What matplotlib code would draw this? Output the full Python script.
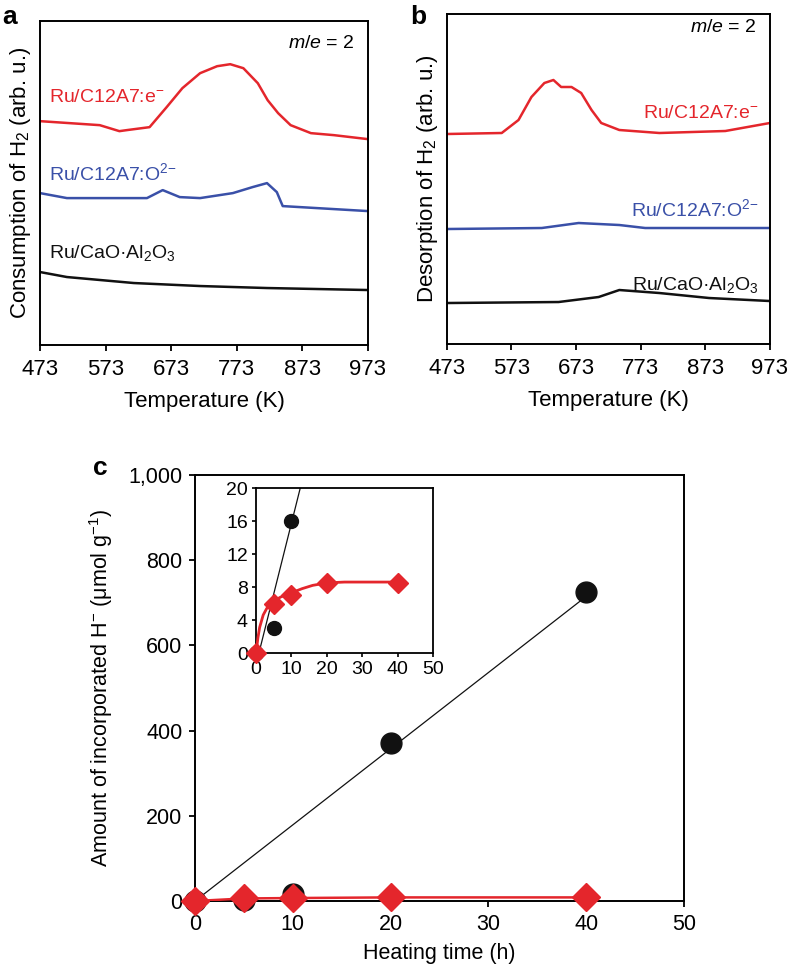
import matplotlib
matplotlib.use("Agg")

import numpy as np
import matplotlib.pyplot as plt

plt.rcParams["font.family"] = ["Liberation Sans", "DejaVu Sans"]
plt.rcParams["mathtext.fontset"] = "custom"
plt.rcParams["mathtext.rm"] = "Liberation Sans"
plt.rcParams["mathtext.it"] = "Liberation Sans:italic"
plt.rcParams["mathtext.default"] = "regular"

# ======================================
# DATA
# ======================================

# panel a: H2 consumption traces (temperature K, arb. units)
a_red_T = [473, 564, 594, 605, 640, 666, 690, 717, 743, 763, 783, 805, 820, 836, 855, 886, 921, 973]
a_red_y = [224, 220, 214, 215, 218, 238, 257, 272, 279, 281, 277, 262, 245, 232, 220, 212, 210, 206]

a_blue_T = [473, 514, 636, 660, 686, 717, 767, 797, 819, 834, 843, 869, 973]
a_blue_y = [152, 147, 147, 155, 148, 147, 152, 158, 162, 153, 139, 138, 134]

a_black_T = [473, 514, 616, 717, 819, 973]
a_black_y = [73, 68, 62, 59, 57, 55]

# panel b: H2 desorption traces
b_red_T = [473, 558, 584, 604, 624, 638, 650, 666, 681, 697, 712, 740, 802, 904, 973]
b_red_y = [210, 211, 224, 247, 261, 264, 257, 257, 251, 234, 221, 214, 211, 213, 221]

b_blue_T = [473, 620, 677, 740, 780, 973]
b_blue_y = [115, 116, 121, 119, 116, 116]

b_black_T = [473, 646, 708, 740, 802, 879, 973]
b_black_y = [41, 42, 47, 54, 51, 46, 43]

# panel c: incorporated H- vs heating time
time_h = [0, 5, 10, 20, 40]
h_e = [0, 3, 16, 370, 725]          # Ru/C12A7:e-
h_o = [0, 6, 7, 8.5, 8.5]           # Ru/C12A7:O2-

fit_main_t = [0, 40]
fit_main_y = [0, 715]
fit_inset_t = [0.8, 14]
fit_inset_y = [0, 22.6]
curve_o_t = [0, 0.5, 1, 2, 3, 4, 5, 7, 10, 13, 16, 20, 25, 30, 40]
curve_o_y = [0, 1.8, 3.1, 4.6, 5.4, 5.9, 6.3, 6.8, 7.3, 7.8, 8.2, 8.5, 8.6, 8.6, 8.6]

temp_ticks = [473, 573, 673, 773, 873, 973]

RED = "#e4262c"
BLUE = "#3a50a8"
BLACK = "#111111"

fig = plt.figure(figsize=(7.88, 9.65), dpi=100)


def style_temp_axis(ax):
    ax.set_xlim(473, 973)
    ax.set_xticks(temp_ticks)
    ax.set_yticks([])
    ax.tick_params(axis="x", direction="out", length=4, width=1.3, labelsize=16, pad=6)
    for s in ax.spines.values():
        s.set_linewidth(1.4)
    ax.set_xlabel("Temperature (K)", fontsize=16, labelpad=8)


# ----------------------------------
# a
# ----------------------------------
ax1 = fig.add_axes([0.0508, 0.6425, 0.4162, 0.3355])
ax1.plot(a_red_T, a_red_y, color=RED, lw=1.8)
ax1.plot(a_blue_T, a_blue_y, color=BLUE, lw=1.8)
ax1.plot(a_black_T, a_black_y, color=BLACK, lw=1.8)
ax1.set_ylim(0, 324)
style_temp_axis(ax1)
ax1.set_ylabel("Consumption of H$_2$ (arb. u.)", fontsize=16, labelpad=5)
ax1.text(0.96, 0.93, r"$\mathit{m}$/$\mathit{e}$ = 2", transform=ax1.transAxes, ha="right", va="center", fontsize=14)
ax1.text(0.028, 0.765, "Ru/C12A7:e$^{-}$", transform=ax1.transAxes, color=RED, fontsize=14, va="center")
ax1.text(0.028, 0.53, "Ru/C12A7:O$^{2{-}}$", transform=ax1.transAxes, color=BLUE, fontsize=14, va="center")
ax1.text(0.028, 0.285, "Ru/CaO·Al$_2$O$_3$", transform=ax1.transAxes, color=BLACK, fontsize=14, va="center")
fig.text(0.003, 0.995, "a", fontsize=19, fontweight="bold", va="top")

# ----------------------------------
# b
# ----------------------------------
ax2 = fig.add_axes([0.567, 0.6435, 0.410, 0.342])
ax2.plot(b_red_T, b_red_y, color=RED, lw=1.8)
ax2.plot(b_blue_T, b_blue_y, color=BLUE, lw=1.8)
ax2.plot(b_black_T, b_black_y, color=BLACK, lw=1.8)
ax2.set_ylim(0, 330)
style_temp_axis(ax2)
ax2.set_ylabel("Desorption of H$_2$ (arb. u.)", fontsize=16, labelpad=5)
ax2.text(0.96, 0.96, r"$\mathit{m}$/$\mathit{e}$ = 2", transform=ax2.transAxes, ha="right", va="center", fontsize=14)
ax2.text(0.965, 0.70, "Ru/C12A7:e$^{-}$", transform=ax2.transAxes, color=RED, fontsize=14, ha="right", va="center")
ax2.text(0.965, 0.41, "Ru/C12A7:O$^{2{-}}$", transform=ax2.transAxes, color=BLUE, fontsize=14, ha="right", va="center")
ax2.text(0.965, 0.18, "Ru/CaO·Al$_2$O$_3$", transform=ax2.transAxes, color=BLACK, fontsize=14, ha="right", va="center")
fig.text(0.52, 0.995, "b", fontsize=19, fontweight="bold", va="top")

# ----------------------------------
# c main
# ----------------------------------
ax3 = fig.add_axes([0.2475, 0.0663, 0.6205, 0.4415])
ax3.plot(fit_main_t, fit_main_y, color=BLACK, lw=0.9, zorder=2)
ax3.plot(time_h, h_o, color=RED, lw=1.8, zorder=3)
ax3.plot(time_h, h_e, "o", color=BLACK, ms=15, zorder=4, clip_on=False)
ax3.plot(time_h, h_o, "D", color=RED, ms=14, zorder=5, clip_on=False)
ax3.set_xlim(0, 50)
ax3.set_ylim(0, 1000)
ax3.set_xticks([0, 10, 20, 30, 40, 50])
ax3.set_yticks([0, 200, 400, 600, 800, 1000])
ax3.set_yticklabels(["0", "200", "400", "600", "800", "1,000"])
ax3.tick_params(direction="out", length=4, width=1.3, labelsize=15.5, pad=5)
for s in ax3.spines.values():
    s.set_linewidth(1.4)
ax3.set_xlabel("Heating time (h)", fontsize=15.5, labelpad=6)
ax3.set_ylabel("Amount of incorporated H$^{-}$ (μmol g$^{-1}$)", fontsize=15.5, labelpad=10)
fig.text(0.118, 0.527, "c", fontsize=19, fontweight="bold", va="top")

# ----------------------------------
# c inset
# ----------------------------------
ax4 = fig.add_axes([0.325, 0.3233, 0.2245, 0.171])
ax4.plot(fit_inset_t, fit_inset_y, color=BLACK, lw=0.9, zorder=2)
ax4.plot(curve_o_t, curve_o_y, color=RED, lw=2.0, zorder=3)
ax4.plot(time_h, h_e, "o", color=BLACK, ms=10, zorder=4, clip_on=False)
ax4.plot(time_h, h_o, "D", color=RED, ms=10, zorder=5, clip_on=False)
ax4.set_xlim(0, 50)
ax4.set_ylim(0, 20)
ax4.set_xticks([0, 10, 20, 30, 40, 50])
ax4.set_yticks([0, 4, 8, 12, 16, 20])
ax4.tick_params(direction="out", length=3, width=1.2, labelsize=14, pad=3)
for s in ax4.spines.values():
    s.set_linewidth(1.3)

plt.savefig("out.png", dpi=100)
plt.close()
